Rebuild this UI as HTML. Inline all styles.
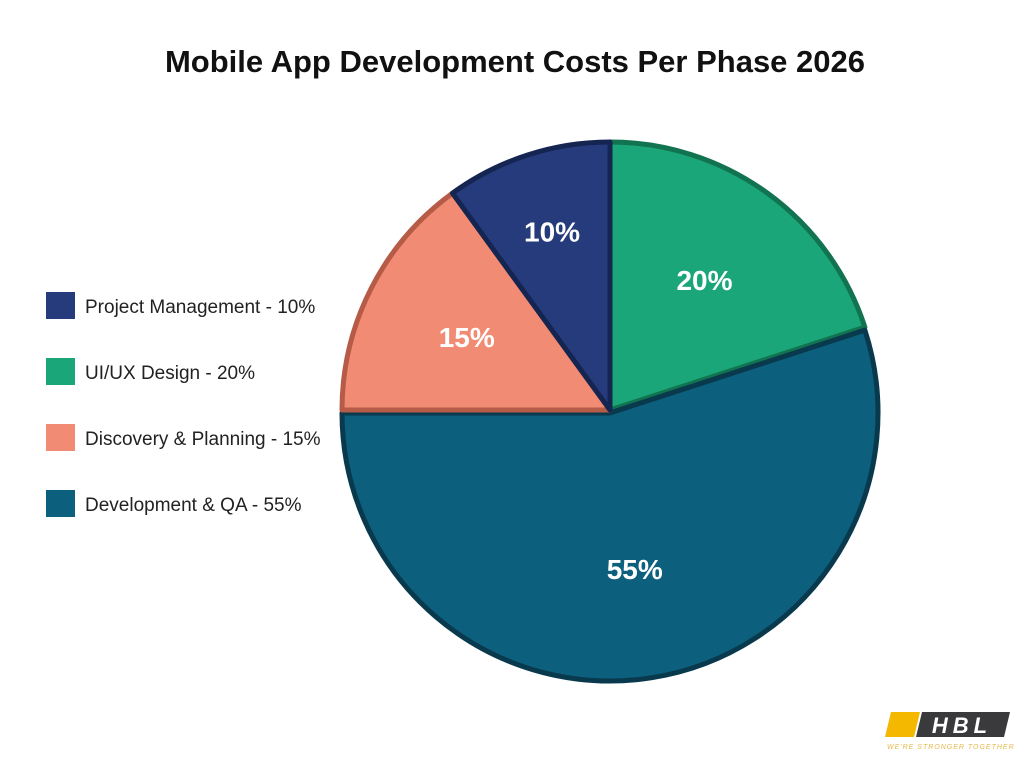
<!DOCTYPE html>
<html><head><meta charset="utf-8"><style>
body{margin:0;background:#fff;width:1029px;height:768px;overflow:hidden;font-family:"Liberation Sans",sans-serif}
</style></head><body>
<svg id="chart" width="1029" height="768">
<text x="515" y="72" text-anchor="middle" font-family="Liberation Sans, sans-serif" font-weight="bold" font-size="31" fill="#111">Mobile App Development Costs Per Phase 2026</text>
<g id="slices"></g>
<g id="legend"></g>
<g>
<polygon points="891,712 920,712 914,737 885,737" fill="#f5b800"/>
<polygon points="922,712 1010,712 1004,737 916,737" fill="#3a3a3c"/>
<text x="962" y="733" text-anchor="middle" font-family="Liberation Sans, sans-serif" font-weight="bold" font-style="italic" font-size="22" fill="#fff" letter-spacing="5">HBL</text>
<text x="887" y="749" font-family="Liberation Sans, sans-serif" font-style="italic" font-size="7" fill="#e6b84a" letter-spacing="1">WE'RE STRONGER TOGETHER</text>
</g>
</svg>
<script>
const categories=["UI/UX Design","Development & QA","Discovery & Planning","Project Management"];
const values=[20,55,15,10];
const colors=["#1ba679","#0d5f7e","#f28b73","#263b7b"];
const edges=["#11734f","#08394d","#b65b47","#152552"];
const legendOrder=[3,0,2,1];
const ns="http://www.w3.org/2000/svg";
const cx=610,cy=410,R=268;
const labelR=[0.6,0.59,0.6,0.7];
const total=values.reduce((a,b)=>a+b,0);
const g=document.getElementById('slices');
let a0=0;
values.forEach((v,i)=>{
  const a1=a0+v/total*360;
  const r0=(a0-90)*Math.PI/180,r1=(a1-90)*Math.PI/180;
  const dy=i===1?3:0;
  const large=(a1-a0)>180?1:0;
  const p=document.createElementNS(ns,'path');
  p.setAttribute('d',`M${cx},${cy+dy} L${cx+R*Math.cos(r0)},${cy+dy+R*Math.sin(r0)} A${R},${R} 0 ${large} 1 ${cx+R*Math.cos(r1)},${cy+dy+R*Math.sin(r1)} Z`);
  p.setAttribute('fill',colors[i]);p.setAttribute('stroke',edges[i]);p.setAttribute('stroke-width','5');p.setAttribute('stroke-linejoin','round');
  
  
  g.appendChild(p);
  const am=((a0+a1)/2-90)*Math.PI/180;
  const lr=labelR[i];
  const t=document.createElementNS(ns,'text');
  t.setAttribute('x',cx+R*lr*Math.cos(am));t.setAttribute('y',cy+dy+R*lr*Math.sin(am)+10);
  t.setAttribute('text-anchor','middle');t.setAttribute('font-size','28');t.setAttribute('font-weight','bold');t.setAttribute('fill','#fff');
  
  
  t.textContent=v+'%';g.appendChild(t);
  a0=a1;
});
const lg=document.getElementById('legend');
legendOrder.forEach((i,k)=>{
  const y=292+k*66;
  const r=document.createElementNS(ns,'rect');
  r.setAttribute('x',46);r.setAttribute('y',y);r.setAttribute('width',29);r.setAttribute('height',27);r.setAttribute('fill',colors[i]);
  
  
  lg.appendChild(r);
  const t=document.createElementNS(ns,'text');
  t.setAttribute('x',85);t.setAttribute('y',y+21);t.setAttribute('font-size','19');t.setAttribute('fill','#222');
  
  
  t.textContent=categories[i]+' - '+values[i]+'%';lg.appendChild(t);
});
</script>
</body></html>
